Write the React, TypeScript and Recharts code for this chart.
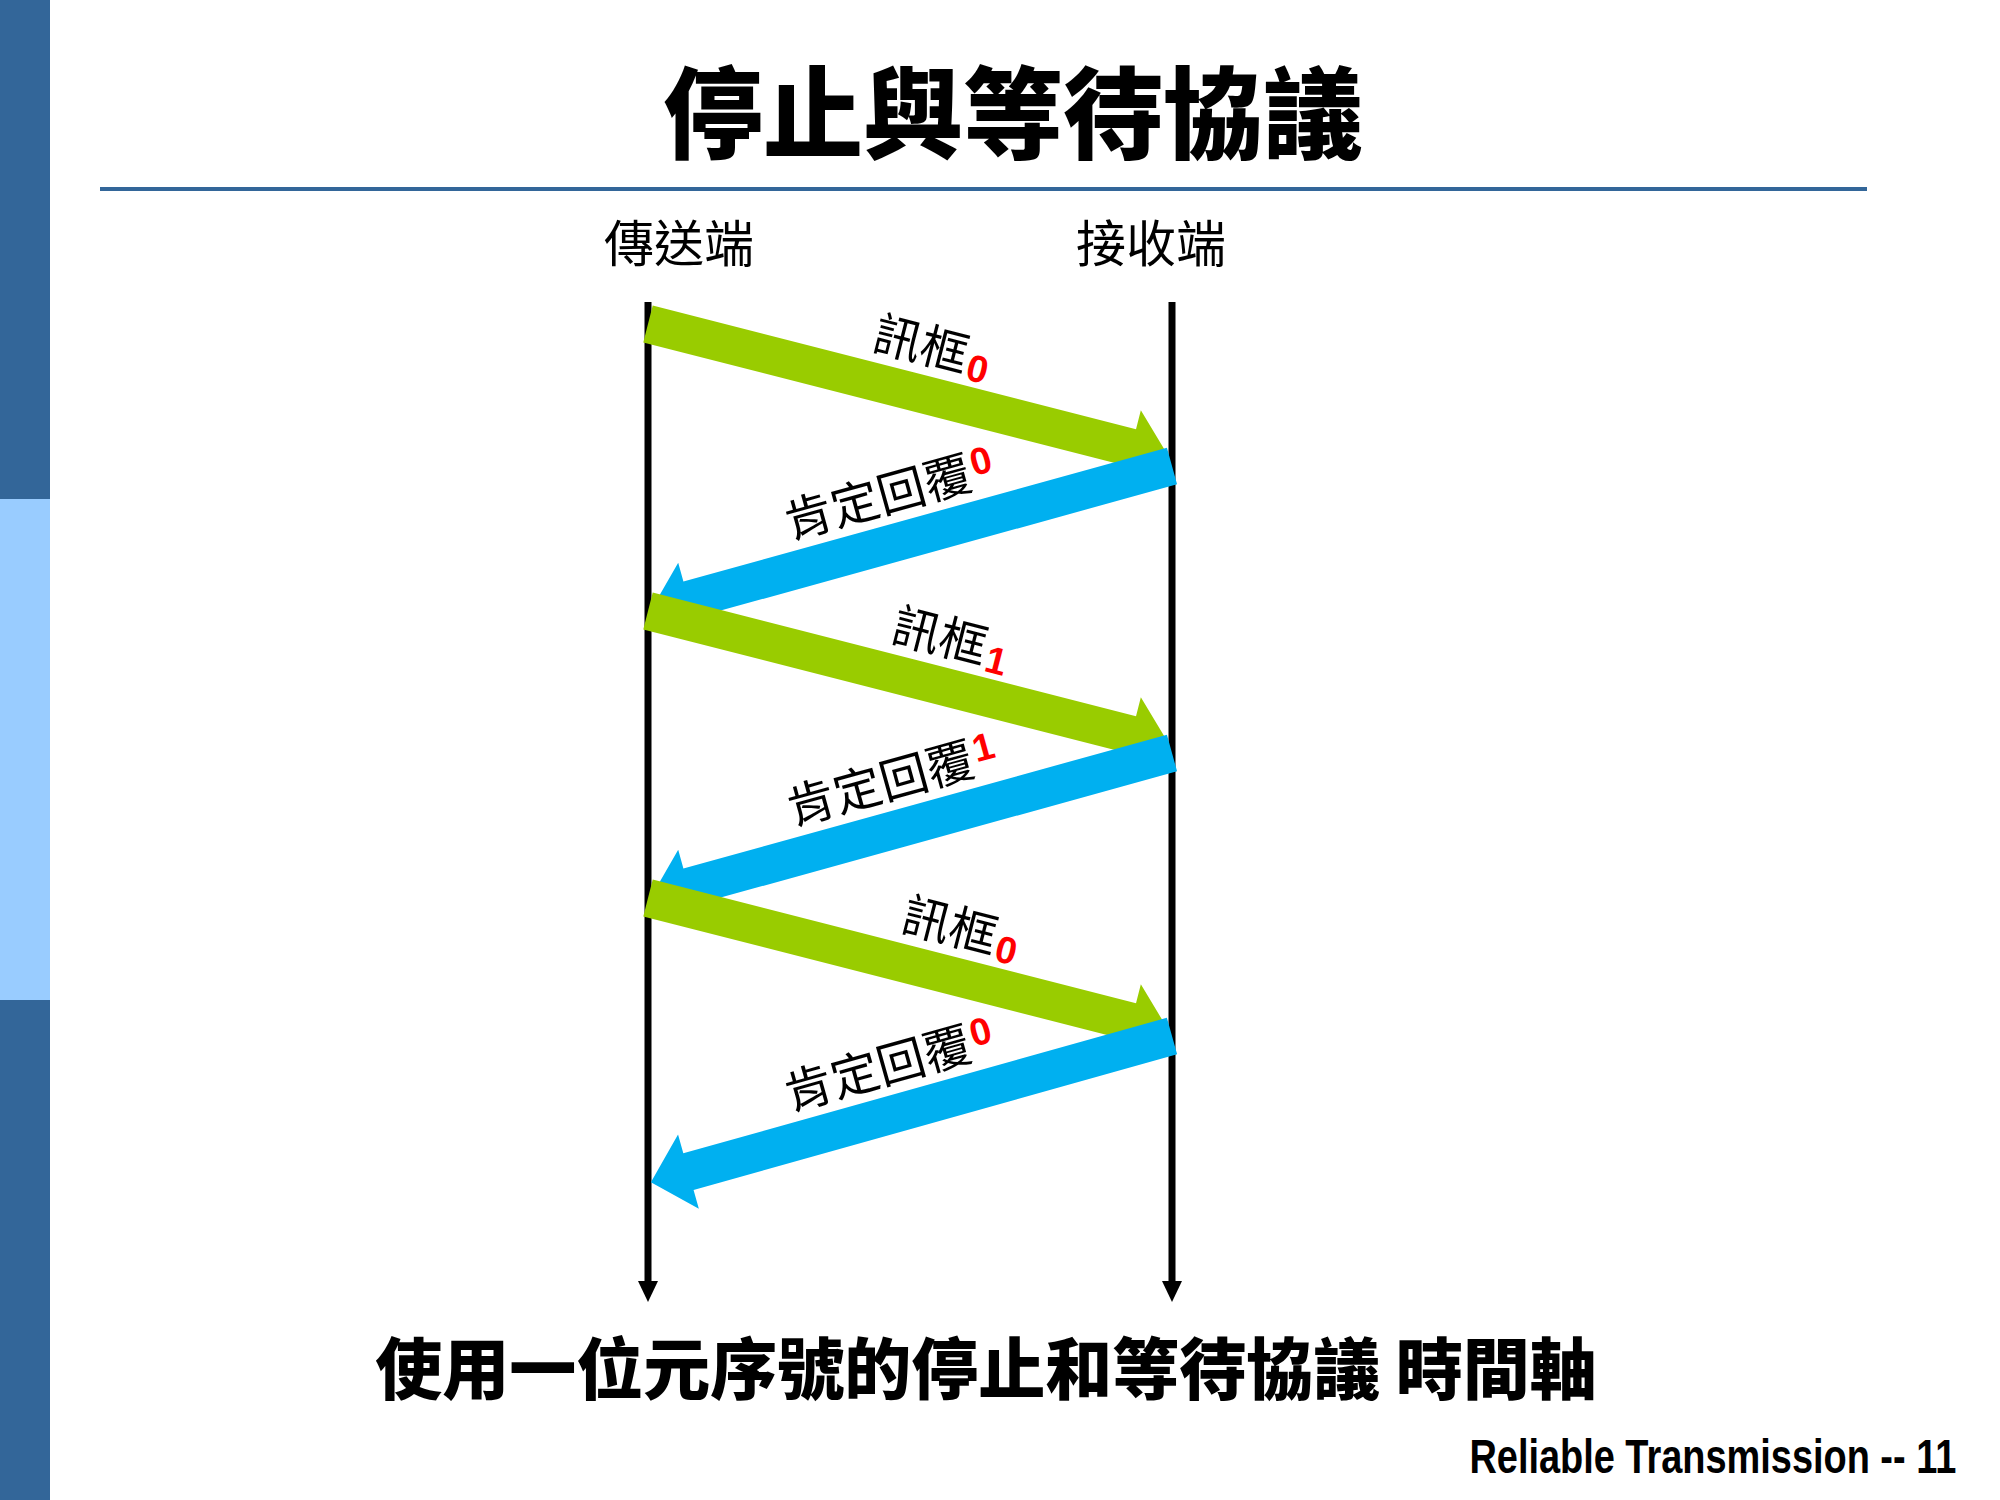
import React from 'react';
import { ComposedChart, XAxis, YAxis, ReferenceLine } from 'recharts';

// x: 0 = 傳送端, 1 = 接收端 ; y: time, running downward (0..100)
const endpoints = ['傳送端', '接收端'];
const timeSpan = [0, 100];
const frameSend = [2.2, 30.9, 59.6];
const frameArrive = [15.6, 44.3, 73.0];
const frameSeq = ['0', '1', '0'];
const ackSend = [16.4, 45.1, 73.4];
const ackArrive = [30.9, 59.6, 88.1];
const ackSeq = ['0', '1', '0'];

const frameText = '訊框';
const ackText = '肯定回覆';
const titleText = '停止與等待協議';
const captionText = '使用一位元序號的停止和等待協議 時間軸';
const footerText = 'Reliable Transmission -- 11';

const GREEN = '#99CC00';
const BLUE = '#00B0F0';
const NAVY = '#336699';
const CJK = '"Noto Sans CJK TC", "Noto Sans CJK SC", sans-serif';

// where the label sits along each arrow (fraction from its left end)
const frameLabelAlong = [0.52, 0.556, 0.575];
const ackLabelAlong = [0.485, 0.49, 0.485];

const SHAFT = 19;
const HEAD = 38.5;
const HEAD_LEN = 39;
const TIP_INSET = 3;
const LABEL_OFFSET = 49;

const messages = frameSend.flatMap((t, i) => [
    { from: 0, to: 1, start: t, end: frameArrive[i], text: frameText, seq: frameSeq[i], color: GREEN, along: frameLabelAlong[i], sup: false },
    { from: 1, to: 0, start: ackSend[i], end: ackArrive[i], text: ackText, seq: ackSeq[i], color: BLUE, along: ackLabelAlong[i], sup: true },
]);

const chartData = endpoints.map((name, i) => ({ x: i, t: timeSpan[i] }));

const arrowShape = (m: any) => (p: any) => {
    const { x1, y1, x2, y2 } = p;
    const len = Math.hypot(x2 - x1, y2 - y1);
    const ux = (x2 - x1) / len;
    const uy = (y2 - y1) / len;
    const nx = -uy;
    const ny = ux;
    const ex = x2 - ux * TIP_INSET;
    const ey = y2 - uy * TIP_INSET;
    const bx = ex - ux * HEAD_LEN;
    const by = ey - uy * HEAD_LEN;
    const pts = [
        [x1 + nx * SHAFT, y1 + ny * SHAFT],
        [bx + nx * SHAFT, by + ny * SHAFT],
        [bx + nx * HEAD, by + ny * HEAD],
        [ex, ey],
        [bx - nx * HEAD, by - ny * HEAD],
        [bx - nx * SHAFT, by - ny * SHAFT],
        [x1 - nx * SHAFT, y1 - ny * SHAFT],
    ];

    // label follows the arrow, always reading left to right
    const lx = Math.min(x1, x2) === x1 ? x1 : x2;
    const ly = lx === x1 ? y1 : y2;
    const rx = lx === x1 ? x2 : x1;
    const ry = lx === x1 ? y2 : y1;
    const vx = (rx - lx) / len;
    const vy = (ry - ly) / len;
    const angle = (Math.atan2(vy, vx) * 180) / Math.PI;
    const cx = lx + vx * len * m.along + vy * LABEL_OFFSET;
    const cy = ly + vy * len * m.along - vx * LABEL_OFFSET;

    return (
        <g>
            <polygon points={pts.map((q) => q.join(',')).join(' ')} fill={m.color} />
            <text
                transform={`translate(${cx},${cy}) rotate(${angle})`}
                x={0}
                y={18}
                textAnchor="middle"
                fontFamily={CJK}
                fontSize={48}
                fill="#000"
            >
                {m.text}
                <tspan
                    fill="#FF0000"
                    fontFamily='"Liberation Sans", Arial, sans-serif'
                    fontWeight={700}
                    fontSize={38}
                    dx={2}
                    dy={m.sup ? -12 : 6}
                >
                    {m.seq}
                </tspan>
            </text>
        </g>
    );
};

const TimelineShape = (p: any) => {
    const { x1, y1, x2, y2 } = p;
    return (
        <g>
            <line x1={x1} y1={y1} x2={x2} y2={y2 - 16} stroke="#000" strokeWidth={7} />
            <polygon points={`${x2 - 10},${y2 - 21} ${x2 + 10},${y2 - 21} ${x2},${y2}`} fill="#000" />
        </g>
    );
};

export default function App() {
    return (
        <div
            style={{
                position: 'absolute',
                left: 0,
                top: 0,
                width: 2000,
                height: 1500,
                background: '#fff',
                overflow: 'hidden',
            }}
        >
            {/* side band */}
            <div style={{ position: 'absolute', left: 0, top: 0, width: 50, height: 499, background: NAVY }} />
            <div style={{ position: 'absolute', left: 0, top: 499, width: 50, height: 501, background: '#99CCFF' }} />
            <div style={{ position: 'absolute', left: 0, top: 1000, width: 50, height: 500, background: NAVY }} />

            <div
                style={{
                    position: 'absolute',
                    left: 413,
                    top: 58,
                    width: 1200,
                    textAlign: 'center',
                    fontFamily: CJK,
                    fontWeight: 900,
                    fontSize: 100,
                    lineHeight: '100px',
                    color: '#000',
                }}
            >
                {titleText}
            </div>
            <div style={{ position: 'absolute', left: 100, top: 187, width: 1767, height: 4, background: NAVY }} />

            {endpoints.map((name, i) => (
                <div
                    key={name}
                    style={{
                        position: 'absolute',
                        left: (i === 0 ? 679 : 1151) - 150,
                        top: 215,
                        width: 300,
                        textAlign: 'center',
                        fontFamily: CJK,
                        fontSize: 50,
                        lineHeight: '50px',
                        color: '#000',
                    }}
                >
                    {name}
                </div>
            ))}

            <div style={{ position: 'absolute', left: 0, top: 0 }}>
                <ComposedChart
                    width={2000}
                    height={1500}
                    data={chartData}
                    margin={{ top: 302, right: 828, bottom: 198, left: 648 }}
                >
                    <XAxis type="number" dataKey="x" domain={[0, 1]} hide />
                    <YAxis type="number" dataKey="t" domain={timeSpan} reversed hide />
                    {endpoints.map((name, i) => (
                        <ReferenceLine
                            key={name}
                            segment={[{ x: i, y: timeSpan[0] }, { x: i, y: timeSpan[1] }]}
                            shape={TimelineShape}
                        />
                    ))}
                    {messages.map((m, i) => (
                        <ReferenceLine
                            key={i}
                            segment={[{ x: m.from, y: m.start }, { x: m.to, y: m.end }]}
                            shape={arrowShape(m)}
                        />
                    ))}
                </ComposedChart>
            </div>

            <div
                style={{
                    position: 'absolute',
                    left: 286,
                    top: 1331,
                    width: 1400,
                    textAlign: 'center',
                    fontFamily: CJK,
                    fontWeight: 900,
                    fontSize: 67,
                    lineHeight: '67px',
                    color: '#000',
                    whiteSpace: 'pre',
                }}
            >
                {captionText}
            </div>

            <div
                style={{
                    position: 'absolute',
                    right: 44,
                    top: 1433,
                    fontFamily: '"Liberation Sans", Arial, sans-serif',
                    fontWeight: 700,
                    fontSize: 48,
                    lineHeight: '48px',
                    color: '#000',
                    whiteSpace: 'pre',
                    transform: 'scaleX(0.79)',
                    transformOrigin: 'right center',
                }}
            >
                {footerText}
            </div>
        </div>
    );
}
